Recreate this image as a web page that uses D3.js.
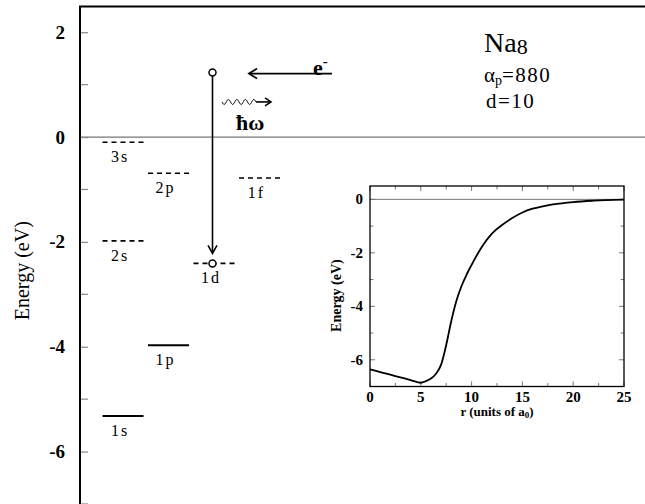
<!DOCTYPE html>
<html><head><meta charset="utf-8">
<script src="https://cdn.jsdelivr.net/npm/d3@7"></script>
<style>
html,body{margin:0;padding:0;background:#fff;}
svg{display:block;}
svg text{font-family:"Liberation Serif","Times New Roman",serif;}
</style></head>
<body>
<svg id="chart" width="645" height="504" font-family="Liberation Serif"></svg>
<script>
// ---------- data ----------
const levelNames    = ["1s", "1p", "2s", "1d", "3s", "2p", "1f"];
const levelEnergies = [-5.32, -3.97, -1.98, -2.41, -0.10, -0.69, -0.78];
const levelColumns  = [0, 1, 0, 2, 0, 1, 3];
const levelOccupied = [true, true, false, false, false, false, false];

const electronEnergy = 1.23;   // incoming electron (eV)
const photonEnergy   = 0.67;   // level at which the photon is drawn
const captureLevel   = "1d";

const mainYTicks  = [-6, -4, -2, 0, 2];
const mainYMinor  = [-7, -5, -3, -1, 1];

// inset: potential energy vs r
const insetR = [0, 1, 2, 3, 4, 5, 5.5, 6, 6.5, 7, 7.5, 8, 8.5, 9, 9.5, 10, 11, 12, 13, 14, 15, 16, 17, 18, 20, 22, 25];
const insetE = [-6.36, -6.46, -6.56, -6.66, -6.76, -6.86, -6.80, -6.70, -6.52, -6.18, -5.45, -4.55, -3.8, -3.25, -2.82, -2.45, -1.78, -1.28, -0.96, -0.70, -0.49, -0.35, -0.26, -0.19, -0.10, -0.05, -0.01];
const insetXTicks = [0, 5, 10, 15, 20, 25];
const insetXMinor = [2.5, 7.5, 12.5, 17.5, 22.5];
const insetYTicks = [-6, -4, -2, 0];
const insetYMinor = [-7, -5, -3, -1];

// ---------- main chart ----------
const FONT = "Liberation Serif";
const svg = d3.select("#chart");
const X0 = 80;
const y = d3.scaleLinear().domain([-7, 2.5]).range([504, 6]);
const col = d3.scaleLinear().domain([0, 4]).range([102.5, 284.5]);
const levelW = 41;

// zero line
svg.append("line").attr("x1", X0).attr("x2", 645).attr("y1", y(0)).attr("y2", y(0))
  .attr("stroke", "#777").attr("stroke-width", 1.2);

// axis ticks (inward) + labels
const yAxis = d3.axisLeft(y).tickValues(mainYTicks).tickSizeInner(-8).tickSizeOuter(0)
  .tickPadding(15).tickFormat(d => String(d));
const gA = svg.append("g").attr("transform", `translate(${X0},0)`).call(yAxis)
  .attr("font-family", FONT);
gA.select(".domain").remove();
gA.selectAll(".tick line").attr("stroke", "#888").attr("stroke-width", 1.2);
gA.selectAll(".tick text").attr("font-family", FONT).attr("font-weight", "bold")
  .attr("font-size", 19).attr("fill", "#000");
svg.append("g").selectAll("line").data(mainYMinor).join("line")
  .attr("x1", X0).attr("x2", X0 + 8).attr("y1", d => y(d)).attr("y2", d => y(d))
  .attr("stroke", "#888").attr("stroke-width", 1.2);

// frame: left spine + top border
svg.append("line").attr("x1", X0).attr("x2", X0).attr("y1", y(2.5)).attr("y2", 504)
  .attr("stroke", "#000").attr("stroke-width", 2);
svg.append("line").attr("x1", X0 - 1).attr("x2", 645).attr("y1", y(2.5) + 0.5).attr("y2", y(2.5) + 0.5)
  .attr("stroke", "#000").attr("stroke-width", 2);

// y label
svg.append("text").attr("transform", `translate(29,${y(-2.55)}) rotate(-90)`)
  .attr("text-anchor", "middle").attr("font-family", FONT).attr("font-size", 20).text("Energy (eV)");

// levels
const levels = levelNames.map((n, i) => ({ name: n, E: levelEnergies[i], c: levelColumns[i], occ: levelOccupied[i] }));
const gL = svg.append("g");
gL.selectAll("line").data(levels).join("line")
  .attr("x1", d => col(d.c)).attr("x2", d => col(d.c) + levelW)
  .attr("y1", d => y(d.E)).attr("y2", d => y(d.E))
  .attr("stroke", "#000").attr("stroke-width", d => d.occ ? 2 : 1.6)
  .attr("stroke-dasharray", d => d.occ ? null : "5,4");
gL.selectAll("text").data(levels).join("text")
  .attr("x", d => col(d.c) + levelW / 2 - 3).attr("y", d => y(d.E) + 20)
  .attr("text-anchor", "middle").attr("font-family", FONT).attr("font-size", 16).attr("letter-spacing", 2)
  .text(d => d.name);

// capture arrow
const cap = levels.find(d => d.name === captureLevel);
const cx = col(cap.c) + 19;
const yTop = y(electronEnergy), yBot = y(cap.E);
svg.append("line").attr("x1", cx).attr("x2", cx).attr("y1", yTop + 3.5).attr("y2", yBot - 10)
  .attr("stroke", "#000").attr("stroke-width", 1.6);
svg.append("path").attr("d", `M${cx - 4.5},${yBot - 18} L${cx},${yBot - 10} L${cx + 4.5},${yBot - 18}`)
  .attr("fill", "none").attr("stroke", "#000").attr("stroke-width", 1.6);
svg.selectAll("circle.st").data([electronEnergy, cap.E]).join("circle")
  .attr("cx", cx).attr("cy", d => y(d)).attr("r", 3.5)
  .attr("fill", "#fff").attr("stroke", "#000").attr("stroke-width", 1.5);

// incoming electron arrow
const ye = y(electronEnergy) + 1;
svg.append("line").attr("x1", 249).attr("x2", 332).attr("y1", ye).attr("y2", ye)
  .attr("stroke", "#000").attr("stroke-width", 1.8);
svg.append("path").attr("d", `M${257},${ye - 5} L249,${ye} L${257},${ye + 5}`)
  .attr("fill", "none").attr("stroke", "#000").attr("stroke-width", 1.8);
const eT = svg.append("text").attr("x", 313).attr("y", ye + 1).attr("font-family", FONT)
  .attr("font-size", 22).attr("font-weight", "bold");
eT.append("tspan").text("e");
eT.append("tspan").attr("font-size", 15).attr("dy", -9).text("-");

// photon
const yp = y(photonEnergy);
const wave = d3.range(0, 34.01, 0.5).map(t => [222 + t, yp + 2.5 * Math.sin(t / 8.5 * 2 * Math.PI)]);
svg.append("path").attr("d", d3.line()(wave)).attr("fill", "none").attr("stroke", "#000").attr("stroke-width", 1);
svg.append("line").attr("x1", 256).attr("x2", 271).attr("y1", yp).attr("y2", yp)
  .attr("stroke", "#000").attr("stroke-width", 1.6);
svg.append("path").attr("d", `M265,${yp - 4} L271,${yp} L265,${yp + 4}`)
  .attr("fill", "none").attr("stroke", "#000").attr("stroke-width", 1.6);
svg.append("text").attr("x", 236).attr("y", 130).attr("font-family", FONT)
  .attr("font-size", 22).attr("font-weight", "bold").text("ħω");

// annotation text
const t1 = svg.append("text").attr("x", 484).attr("y", 52).attr("font-family", FONT).attr("font-size", 28);
t1.append("tspan").text("Na");
t1.append("tspan").attr("font-size", 22).attr("dy", 2).text("8");
const t2 = svg.append("text").attr("x", 484).attr("y", 82).attr("font-family", FONT).attr("font-size", 21);
t2.append("tspan").text("α");
t2.append("tspan").attr("font-size", 14).attr("dy", 2.5).text("p");
t2.append("tspan").attr("dy", -2.5).attr("letter-spacing", 1.5).text("=880");
svg.append("text").attr("x", 486).attr("y", 108).attr("font-family", FONT).attr("font-size", 21)
  .attr("letter-spacing", 1.5).text("d=10");

// ---------- inset ----------
const ix = d3.scaleLinear().domain([0, 25]).range([370, 624]);
const iy = d3.scaleLinear().domain([-7, 0.5]).range([386.5, 186]);
const gi = svg.append("g");
gi.append("line").attr("x1", ix(0)).attr("x2", ix(25)).attr("y1", iy(0)).attr("y2", iy(0))
  .attr("stroke", "#777").attr("stroke-width", 1);
// ticks inward on all sides
const tickCol = "#777";
const xt = insetXTicks.map(v => ({ v, L: 5 })).concat(insetXMinor.map(v => ({ v, L: 3.5 })));
const yt = insetYTicks.map(v => ({ v, L: 5 })).concat(insetYMinor.map(v => ({ v, L: 3.5 })));
gi.selectAll("line.xb").data(xt).join("line").attr("class", "xb")
  .attr("x1", d => ix(d.v)).attr("x2", d => ix(d.v)).attr("y1", iy(-7)).attr("y2", d => iy(-7) - d.L)
  .attr("stroke", tickCol);
gi.selectAll("line.xt").data(xt).join("line").attr("class", "xt")
  .attr("x1", d => ix(d.v)).attr("x2", d => ix(d.v)).attr("y1", iy(0.5)).attr("y2", d => iy(0.5) + d.L)
  .attr("stroke", tickCol);
gi.selectAll("line.yl").data(yt).join("line").attr("class", "yl")
  .attr("y1", d => iy(d.v)).attr("y2", d => iy(d.v)).attr("x1", ix(0)).attr("x2", d => ix(0) + d.L)
  .attr("stroke", tickCol);
gi.selectAll("line.yr").data(yt).join("line").attr("class", "yr")
  .attr("y1", d => iy(d.v)).attr("y2", d => iy(d.v)).attr("x1", ix(25)).attr("x2", d => ix(25) - d.L)
  .attr("stroke", tickCol);
// frame
gi.append("rect").attr("x", ix(0)).attr("y", iy(0.5)).attr("width", ix(25) - ix(0)).attr("height", iy(-7) - iy(0.5))
  .attr("fill", "none").attr("stroke", "#000").attr("stroke-width", 1.3);
// tick labels
gi.selectAll("text.xl").data(insetXTicks).join("text").attr("class", "xl")
  .attr("x", d => ix(d)).attr("y", iy(-7) + 15).attr("text-anchor", "middle").attr("font-family", FONT)
  .attr("font-size", 15).attr("font-weight", "bold").text(d => String(d));
gi.selectAll("text.yl").data(insetYTicks).join("text").attr("class", "yl")
  .attr("x", ix(0) - 7).attr("y", d => iy(d) + 5).attr("text-anchor", "end").attr("font-family", FONT)
  .attr("font-size", 15).attr("font-weight", "bold").text(d => String(d));
// labels
gi.append("text").attr("transform", `translate(341,${iy(-3.6)}) rotate(-90)`).attr("font-family", FONT)
  .attr("text-anchor", "middle").attr("font-size", 14).attr("font-weight", "bold").text("Energy (eV)");
const xl = gi.append("text").attr("x", ix(12.5)).attr("y", iy(-7) + 29).attr("text-anchor", "middle")
  .attr("font-family", FONT).attr("font-size", 13).attr("font-weight", "bold");
xl.append("tspan").text("r (units of a");
xl.append("tspan").attr("font-size", 9).attr("dy", 2).text("0");
xl.append("tspan").attr("dy", -2).text(")");
// curve
const pts = insetR.map((r, i) => [r, insetE[i]]);
gi.append("path").datum(pts)
  .attr("d", d3.line().x(d => ix(d[0])).y(d => iy(d[1])).curve(d3.curveMonotoneX))
  .attr("fill", "none").attr("stroke", "#000").attr("stroke-width", 1.8);
</script>
</body></html>
